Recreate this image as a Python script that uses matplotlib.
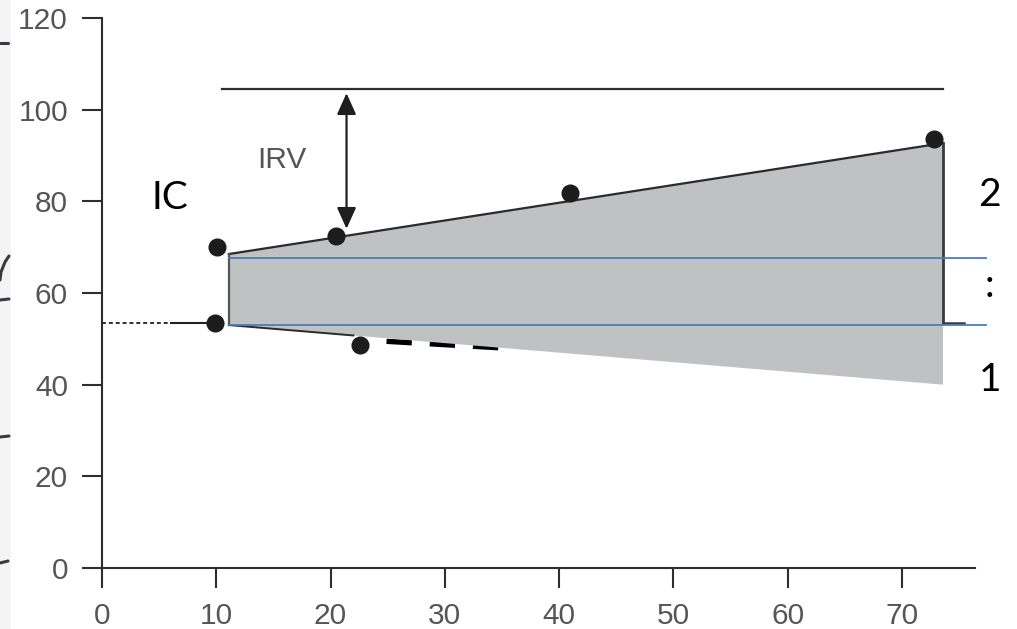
import matplotlib
matplotlib.use("Agg")
import matplotlib.pyplot as plt
from matplotlib.patches import Polygon, Rectangle, FancyArrowPatch

# --- data -------------------------------------------------------------
frc_level = 53.5                      # resting end-expiratory level
baseline_dotted_x = [0, 6]
baseline_solid_x = [6, 10]

point_x = [10.1, 9.9, 20.5, 22.6, 41.0, 72.8]
point_y = [70.0, 53.5, 72.4, 48.7, 81.8, 93.6]

band_x = [11.1, 73.6]
band_top = [68.5, 92.7]
band_bottom = [53.0, 40.0]

tlc_level = 104.5
tlc_x = [10.5, 73.6]

irv_x = 21.4
irv_top = 103.6
irv_bottom = 74.0

blue_levels = [67.6, 53.0]
blue_x = [11.1, 77.4]

dash_x = [24.9, 34.7]
dash_y = [49.45, 48.05]

end_stub_x = [73.6, 75.4]

x_ticks = [0, 10, 20, 30, 40, 50, 60, 70]
y_ticks = [0, 20, 40, 60, 80, 100, 120]

# --- figure -----------------------------------------------------------
W, H = 1017, 629
fig = plt.figure(figsize=(W / 100, H / 100), dpi=100)
fig.patch.set_facecolor("white")

# faint strip and pen strokes along the left margin
fig.patches.append(Rectangle((0, 0), 11 / W, 1, transform=fig.transFigure,
                             facecolor="#f4f4f6", edgecolor="none", zorder=0))
stroke_kw = dict(color="#3a3a3a", lw=2.2, solid_capstyle="round",
                 transform=fig.transFigure, zorder=1)
fig.lines.append(plt.Line2D([0 / W, 8 / W], [1 - 43 / H, 1 - 43 / H], **stroke_kw))
fig.lines.append(plt.Line2D([9 / W, 5 / W, 1 / W, 0 / W],
                            [1 - 256 / H, 1 - 262 / H, 1 - 272 / H, 1 - 280 / H],
                            **stroke_kw))
fig.lines.append(plt.Line2D([0 / W, 9 / W], [1 - 300 / H, 1 - 299 / H], **stroke_kw))
fig.lines.append(plt.Line2D([0 / W, 9 / W], [1 - 437 / H, 1 - 436 / H], **stroke_kw))
fig.lines.append(plt.Line2D([0 / W, 8 / W], [1 - 563 / H, 1 - 561 / H], **stroke_kw))

ax = fig.add_axes([102 / W, (H - 568) / H, (975 - 102) / W, 550 / H])
ax.set_xlim(0, 76.4)
ax.set_ylim(0, 120)
ax.set_facecolor("none")

for side in ("top", "right"):
    ax.spines[side].set_visible(False)
for side in ("left", "bottom"):
    ax.spines[side].set_color("#2e2e2e")
    ax.spines[side].set_linewidth(1.5)

ax.set_xticks(x_ticks)
ax.set_yticks(y_ticks)
ax.tick_params(direction="out", length=14.5, width=1.5, color="#2e2e2e",
               labelsize=21.5, labelcolor="#555555", pad=10)
for lab in ax.get_xticklabels() + ax.get_yticklabels():
    lab.set_fontfamily(["Liberation Sans", "DejaVu Sans"])

# thick dashed segment partly hidden by the shaded band
ax.plot(dash_x, dash_y, color="black", lw=3.8, dashes=(4.8, 3.4),
        solid_capstyle="butt", dash_capstyle="butt", zorder=1)

# shaded band between the two sloping edges
band = Polygon([(band_x[0], band_bottom[0]), (band_x[0], band_top[0]),
                (band_x[1], band_top[1]), (band_x[1], band_bottom[1])],
               closed=True, facecolor="#c0c1c3", edgecolor="none", zorder=2)
ax.add_patch(band)

edge = "#2b2b2b"
ax.plot(band_x, band_top, color=edge, lw=1.6, zorder=3)
ax.plot([band_x[0], band_x[0]], [band_bottom[0], band_top[0]], color="#555555",
        lw=1.6, zorder=3)
ax.plot([band_x[0], 22.0],
        [band_bottom[0], band_bottom[0] + (band_bottom[1] - band_bottom[0])
         * (22.0 - band_x[0]) / (band_x[1] - band_x[0])],
        color=edge, lw=1.4, zorder=3)
ax.plot([band_x[1], band_x[1]], [frc_level, band_top[1]], color="#3a3a3a",
        lw=2.0, zorder=3)
ax.plot(end_stub_x, [frc_level, frc_level], color="#3a3a3a", lw=1.8,
        zorder=3, clip_on=False)

# resting level before the band
ax.plot(baseline_dotted_x, [frc_level, frc_level], color="#222222", lw=1.3,
        linestyle=(0, (2.2, 1.6)), zorder=3, clip_on=False)
ax.plot(baseline_solid_x, [frc_level, frc_level], color="#222222", lw=1.5, zorder=3)

# total lung capacity line and IRV arrow
ax.plot(tlc_x, [tlc_level, tlc_level], color="#2e2e2e", lw=1.6, zorder=3)
arrow = FancyArrowPatch((irv_x, irv_top), (irv_x, irv_bottom),
                        arrowstyle="<|-|>,head_length=10,head_width=4.5",
                        mutation_scale=1.3, color="#1e1e1e", lw=1.6,
                        shrinkA=0, shrinkB=0, zorder=4)
ax.add_patch(arrow)

# blue reference lines
for lvl in blue_levels:
    ax.plot(blue_x, [lvl, lvl], color="#4a7dbd", lw=1.3, zorder=5, clip_on=False)

# measured points
ax.plot(point_x, point_y, "o", color="#1c1c1c", markersize=12, zorder=6,
        clip_on=False)

# labels
ax.text(13.6, 89.0, "IRV", fontsize=21.5, color="#555555", va="center", ha="left",
        family=["Liberation Sans", "DejaVu Sans"])
ax.text(4.3, 80.7, "IC", fontsize=28, color="black", va="center", ha="left",
        family=["Lato", "DejaVu Sans"])
ax.text(77.7, 81.4, "2", fontsize=28, color="black", va="center", ha="center",
        family=["Lato", "DejaVu Sans"], clip_on=False)
ax.text(77.7, 61.5, ":", fontsize=28, color="black", va="center", ha="center",
        family=["Lato", "DejaVu Sans"], clip_on=False)
ax.text(77.7, 41.0, "1", fontsize=28, color="black", va="center", ha="center",
        family=["Lato", "DejaVu Sans"], clip_on=False)

fig.savefig("out.png", dpi=100, facecolor=fig.get_facecolor())
